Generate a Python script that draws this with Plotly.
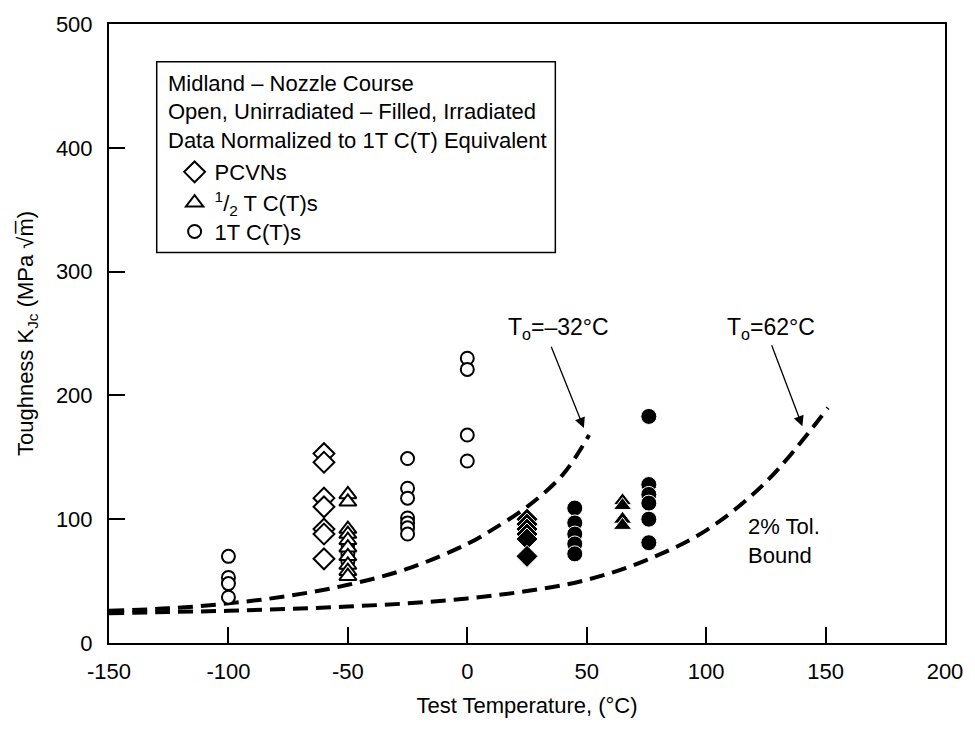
import plotly.graph_objects as go

# ---------------- data ----------------
# Open symbols = unirradiated, filled = irradiated
pcvn_open_x = [-60, -60, -60, -60, -60, -60, -60]
pcvn_open_y = [153, 146, 117, 110, 92, 88, 68]

half_open_x = [-50, -50, -50, -50, -50, -50, -50, -50, -50, -50]
half_open_y = [120, 114, 92, 88, 83, 77, 70, 63, 58, 54]

one_open_x = [-100, -100, -100, -100, -50, -50, -50,
              -25, -25, -25, -25, -25, -25, -25, 0, 0, 0, 0]
one_open_y = [70, 53, 48, 37, 80, 72, 66,
              149, 125, 117, 101, 97, 93, 88, 230, 221, 168, 147]

pcvn_fill_x = [25, 25, 25, 25, 25, 25]
pcvn_fill_y = [100, 96, 92, 88, 84, 70]

half_fill_x = [65, 65, 65, 65]
half_fill_y = [115, 111, 100, 95]

one_fill_x = [45, 45, 45, 45, 45, 76, 76, 76, 76, 76, 76]
one_fill_y = [109, 97, 88, 80, 72, 183, 128, 120, 113, 100, 81]

# 2% tolerance bound curves
curve1_x = [-150, -125, -100, -75, -50, -25, 0, 10, 25, 40, 51]
curve1_y = [26, 28, 32, 38, 47, 60, 80, 91, 110, 136, 168]
curve2_x = [-150, -125, -100, -75, -50, -25, 0, 25, 50, 75, 100, 125, 151]
curve2_y = [24, 25, 26, 27.5, 29.5, 32, 36, 42, 51, 67, 91, 130, 190]

x_ticks = [-150, -100, -50, 0, 50, 100, 150, 200]
x_ticktext = ["-150", "-100", "-50", "0", "50", "100", "150", "200"]
y_ticks = [0, 100, 200, 300, 400, 500]

legend_names = ["PCVNs", "<sup>1</sup>/<sub>2</sub> T C(T)s", "1T C(T)s"]
headers = ["Midland – Nozzle Course",
           "Open, Unirradiated – Filled, Irradiated",
           "Data Normalized to 1T C(T) Equivalent"]

FONT = "Liberation Sans, Arial, Helvetica, sans-serif"
L, R, T, B = 109, 25, 20, 86
PW, PH = 975 - L - R, 729 - T - B


def px(xp):
    return (xp - L) / PW


def py(yp):
    return (729 - B - yp) / PH


fig = go.Figure()

dash = "15px,8px"
for cx, cy in ((curve1_x, curve1_y), (curve2_x, curve2_y)):
    fig.add_trace(go.Scatter(x=cx, y=cy, mode="lines", line_shape="spline",
                             line=dict(color="black", width=4, dash=dash),
                             showlegend=False, hoverinfo="skip"))


def pts(x, y, symbol, size, filled, lw=2):
    if filled:
        marker = dict(symbol=symbol, size=size, color="black",
                      line=dict(color="white", width=1))
    else:
        marker = dict(symbol=symbol, size=size, color="white",
                      line=dict(color="black", width=lw))
    return go.Scatter(x=x, y=y, mode="markers", marker=marker, showlegend=False)


fig.add_trace(pts(one_open_x, one_open_y, "circle", 13, False))
fig.add_trace(pts(pcvn_open_x, pcvn_open_y, "diamond", 16, False))
fig.add_trace(pts(half_open_x, half_open_y, "triangle-up", 15, False))
fig.add_trace(pts(pcvn_fill_x, pcvn_fill_y, "diamond", 17, True))
fig.add_trace(pts(half_fill_x, half_fill_y, "triangle-up", 16, True))
fig.add_trace(pts(one_fill_x, one_fill_y, "circle", 16, True))

LEG_FS = 22
legend_syms = [("diamond", 17), ("triangle-up", 15), ("circle", 13)]
legend_rows = [169, 200, 229]
legend_ids = ["legend", "legend2", "legend3"]
legend_layout = {}
for i, name in enumerate(legend_names):
    sym, sz = legend_syms[i]
    fig.add_trace(go.Scatter(x=[None], y=[None], mode="markers", name=name,
                             legend=legend_ids[i],
                             marker=dict(symbol=sym, size=sz, color="white",
                                         line=dict(color="black", width=2))))
    legend_layout[legend_ids[i]] = dict(
        x=px(175), y=py(legend_rows[i]), xanchor="left", yanchor="middle",
        bgcolor="rgba(0,0,0,0)", borderwidth=0,
        font=dict(family=FONT, size=LEG_FS, color="black"))

# legend box + header text
fig.add_shape(type="rect", xref="paper", yref="paper",
              x0=px(157), x1=px(558), y0=py(250), y1=py(58),
              line=dict(color="black", width=1.5), fillcolor="white", layer="below")
for i, h in enumerate(headers):
    fig.add_annotation(xref="paper", yref="paper", x=px(166),
                       y=py(80 + 28.5 * i), text=h, showarrow=False,
                       xanchor="left", yanchor="middle",
                       font=dict(family=FONT, size=LEG_FS, color="black"))

# curve labels and arrows
fig.add_annotation(x=38, y=254, text="T<sub>o</sub>=–32°C", showarrow=False,
                   font=dict(family=FONT, size=23, color="black"))
fig.add_annotation(x=127, y=254, text="T<sub>o</sub>=62°C", showarrow=False,
                   font=dict(family=FONT, size=23, color="black"))
fig.add_annotation(x=48.8, y=173.6, ax=34.9, ay=240.5, axref="x", ayref="y",
                   text="", showarrow=True, arrowhead=2, arrowsize=1.6,
                   arrowwidth=1.3, arrowcolor="black")
fig.add_annotation(x=140.3, y=175, ax=127.2, ay=241.8, axref="x", ayref="y",
                   text="", showarrow=True, arrowhead=2, arrowsize=1.6,
                   arrowwidth=1.3, arrowcolor="black")
fig.add_annotation(x=116.7, y=82.7, text="2% Tol.<br>Bound", showarrow=False,
                   xanchor="left", yanchor="middle", align="left",
                   font=dict(family=FONT, size=22, color="black"))

fig.update_layout(
    width=975, height=729,
    margin=dict(l=L, r=R, t=T, b=B),
    paper_bgcolor="white", plot_bgcolor="white",
    font=dict(family=FONT, size=22, color="black"),
    xaxis=dict(range=[-150, 200], tickvals=x_ticks, ticktext=x_ticktext,
               ticks="inside", ticklen=16, tickwidth=1.5, tickcolor="black",
               showline=True, linecolor="black", linewidth=2, mirror=True,
               showgrid=False, zeroline=False, ticklabelstandoff=8,
               tickfont=dict(family=FONT, size=22),
               title=dict(text="Test Temperature, (°C)", standoff=14,
                          font=dict(family=FONT, size=22))),
    yaxis=dict(range=[0, 500], tickvals=y_ticks,
               ticks="inside", ticklen=16, tickwidth=1.5, tickcolor="black",
               showline=True, linecolor="black", linewidth=2, mirror=True,
               showgrid=False, zeroline=False, ticklabelstandoff=10,
               tickfont=dict(family=FONT, size=22),
               title=dict(text="Toughness K<sub>Jc</sub> (MPa √m̅)", standoff=16,
                          font=dict(family=FONT, size=22))),
    **legend_layout,
)

fig.write_html("out.html")
